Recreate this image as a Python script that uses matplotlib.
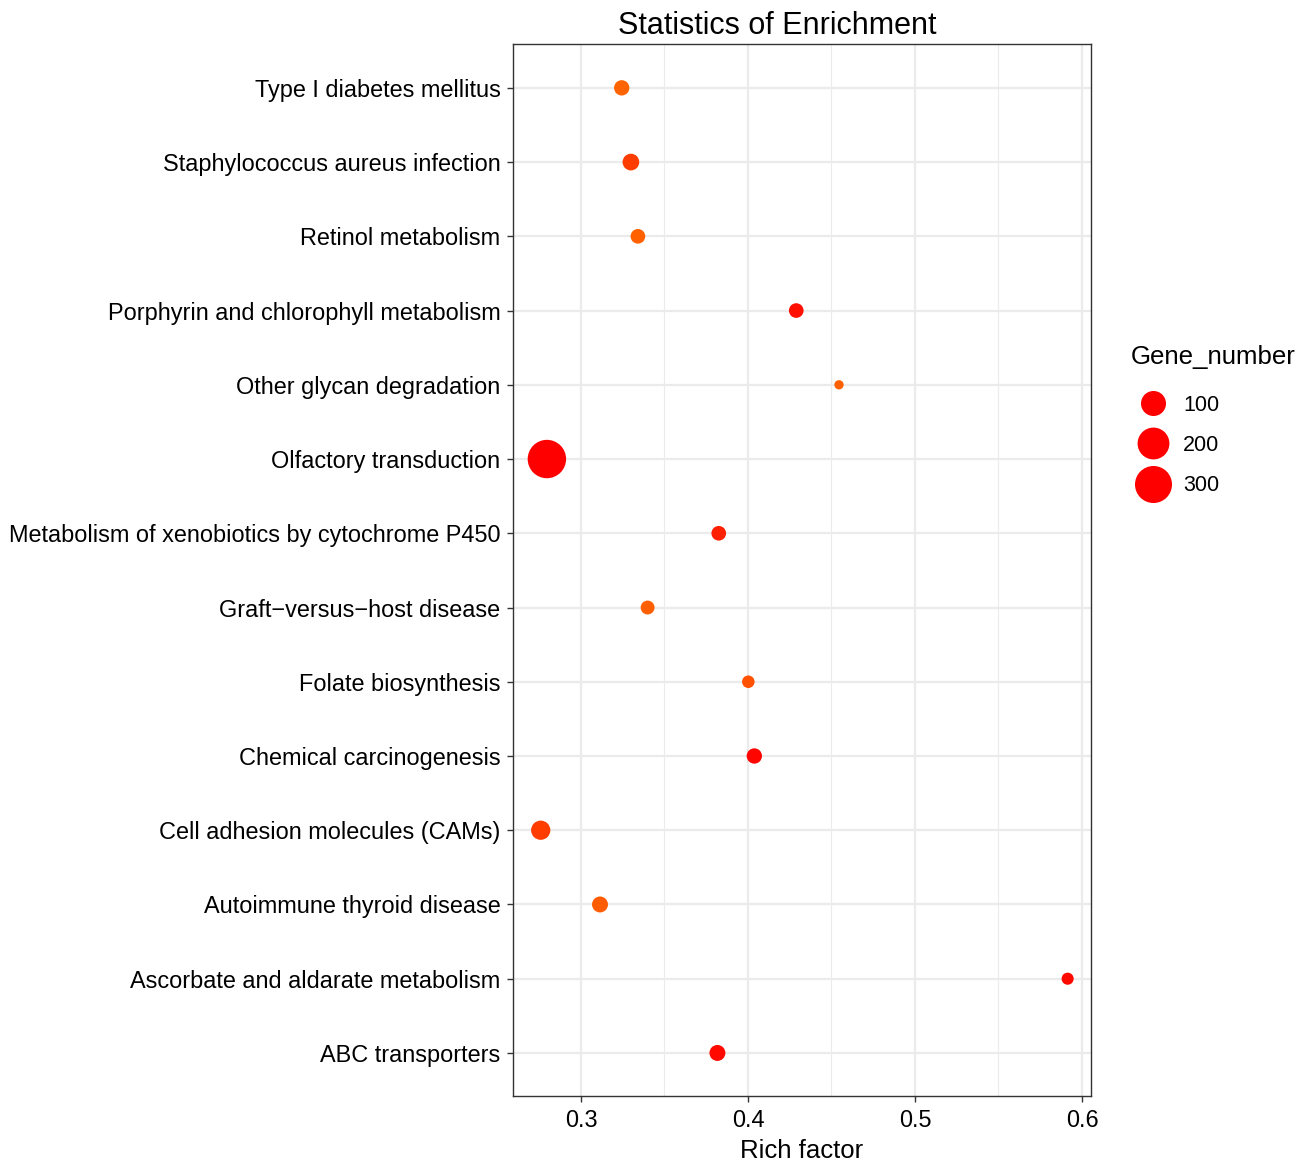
import numpy as np
import matplotlib
matplotlib.use("Agg")
import matplotlib.pyplot as plt
from matplotlib.colors import LinearSegmentedColormap, Normalize
from matplotlib.lines import Line2D
from matplotlib.ticker import MultipleLocator

plt.rcParams['font.family'] = ['Liberation Sans', 'DejaVu Sans']

# KEGG pathway enrichment (top to bottom as listed on the y axis)
pathways = [
    "Type I diabetes mellitus",
    "Staphylococcus aureus infection",
    "Retinol metabolism",
    "Porphyrin and chlorophyll metabolism",
    "Other glycan degradation",
    "Olfactory transduction",
    "Metabolism of xenobiotics by cytochrome P450",
    "Graft\u2212versus\u2212host disease",
    "Folate biosynthesis",
    "Chemical carcinogenesis",
    "Cell adhesion molecules (CAMs)",
    "Autoimmune thyroid disease",
    "Ascorbate and aldarate metabolism",
    "ABC transporters",
]
rich_factor = [0.3244, 0.3299, 0.3341, 0.4289, 0.4545, 0.2796, 0.3825,
               0.3399, 0.4002, 0.4038, 0.2759, 0.3114, 0.5914, 0.3817]
gene_number = [19, 26, 16, 16, 5, 330, 16, 13, 9, 19, 43, 22, 8, 22]
qvalue = [0.62, 0.38, 0.60, 0.10, 0.60, 0.00, 0.20,
          0.59, 0.50, 0.03, 0.38, 0.56, 0.05, 0.06]

legend_values = [100, 200, 300]
x_ticks = [0.3, 0.4, 0.5, 0.6]

DPI = 100
W, H = 1311, 1162
fig = plt.figure(figsize=(W / DPI, H / DPI), dpi=DPI)
ax = fig.add_axes([0.3913, 0.0568, 0.8322 - 0.3913, 0.9621 - 0.0568])

gmin, gmax = min(gene_number), max(gene_number)
PX = 72.0 / DPI  # points per pixel


def marker_diameter_px(v):
    # area-proportional size scale spanning the data range
    frac = np.clip((np.asarray(v, float) - gmin) / (gmax - gmin), 0, None)
    return 9.3 + 29.1 * np.sqrt(frac)


cmap = LinearSegmentedColormap.from_list("red_orange", ["#FF0000", "#FF6400"])
norm = Normalize(vmin=min(qvalue), vmax=max(qvalue))

n = len(pathways)
ypos = np.arange(n, 0, -1)

sizes = (marker_diameter_px(gene_number) * PX) ** 2
ax.scatter(rich_factor, ypos, s=sizes, c=cmap(norm(qvalue)), linewidths=0,
           zorder=3)

ax.set_xlim(0.2593, 0.6054)
ax.set_ylim(0.42, n + 0.59)
ax.set_yticks(ypos)
ax.set_yticklabels(pathways)
ax.set_xticks(x_ticks)
ax.set_xticklabels([f"{t:.1f}" for t in x_ticks])
ax.xaxis.set_minor_locator(MultipleLocator(0.05))

ax.grid(True, which='major', color='#EBEBEB', linewidth=1.6, zorder=0)
ax.grid(True, which='minor', axis='x', color='#EBEBEB', linewidth=0.8, zorder=0)
ax.set_axisbelow(True)
ax.tick_params(axis='x', which='minor', length=0)
ax.tick_params(axis='both', which='major', length=4, width=1.0,
               color='#333333', labelsize=16.9, labelcolor='black')
ax.tick_params(axis='y', which='major', pad=5)
ax.tick_params(axis='x', which='major', pad=5.5)
for sp in ax.spines.values():
    sp.set_color('#333333')
    sp.set_linewidth(1.0)

fig.text(777 / W, 1 - 26 / H, "Statistics of Enrichment", fontsize=22,
         ha='center', va='center')
ax.set_xlabel("Rich factor", fontsize=18.5, labelpad=5)

# size legend
fig.text(1131 / W, 1 - 357 / H, "Gene_number", fontsize=18.6,
         ha='left', va='center')
handles = [Line2D([], [], linestyle='none', marker='o', markerfacecolor='#FF0000',
                  markeredgewidth=0, markersize=float(marker_diameter_px(v)) * PX)
           for v in legend_values]
leg = fig.legend(handles, [str(v) for v in legend_values],
                 loc='upper left', bbox_to_anchor=(1123 / W, 1 - 386 / H),
                 frameon=False, fontsize=15.5, labelspacing=0.9,
                 handletextpad=0.4, borderaxespad=0)

fig.savefig("out.png", dpi=DPI, facecolor='white')
